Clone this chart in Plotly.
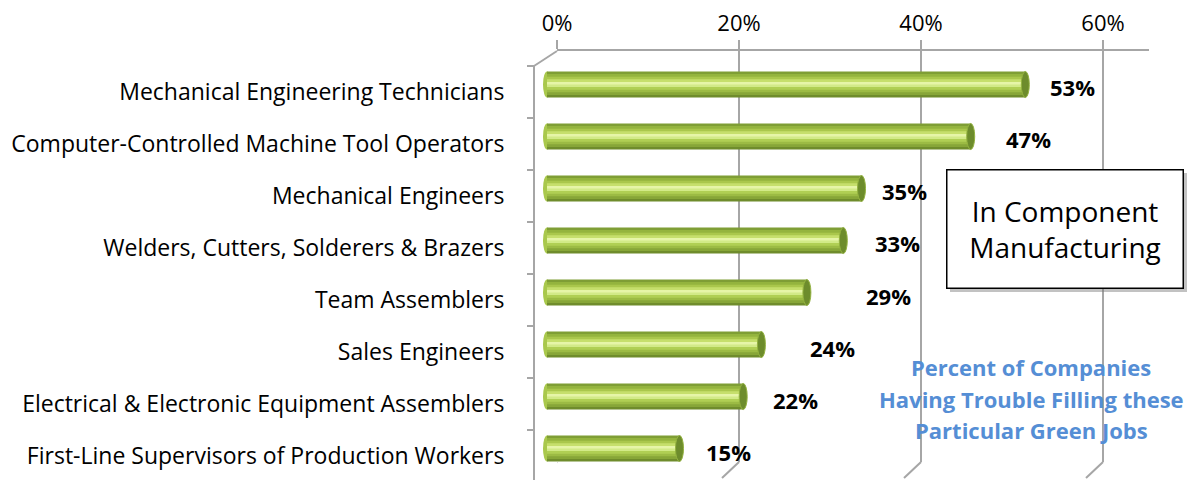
import plotly.graph_objects as go

categories = [
    "Mechanical Engineering Technicians",
    "Computer-Controlled Machine Tool Operators",
    "Mechanical Engineers",
    "Welders, Cutters, Solderers & Brazers",
    "Team Assemblers",
    "Sales Engineers",
    "Electrical & Electronic Equipment Assemblers",
    "First-Line Supervisors of Production Workers",
]
values = [53, 47, 35, 33, 29, 24, 22, 15]
tick_values = [0, 20, 40, 60]
tick_labels = ["0%", "20%", "40%", "60%"]
label_nudge_px = [-3, 7, -8, 4, 31, 21, 2, -2]

W, H = 1191, 480
FONT = "Open Sans"
GRID = "#a6a6a6"
PXU = 9.1          # pixels per percent
CAP = 4 / PXU      # cap radius in data units
n = len(categories)
pos = list(range(n))

def px(xp):
    return xp / W

def py(yp):
    return 1 - yp / H

strip_colors = ["#7f9e35", "#94b43e", "#aac74c", "#c6df6c", "#e6f5a8",
                "#d2ea88", "#b0cf54", "#9cbb44", "#87a638", "#6f8c2c"]
bar_h = 0.5
sw = bar_h / len(strip_colors)

fig = go.Figure()
fig.add_trace(go.Scatter(x=[], y=[], xaxis="x", yaxis="y", showlegend=False))
for k, c in enumerate(strip_colors):
    extra = sw * 0.6 if k < len(strip_colors) - 1 else 0
    fig.add_trace(go.Bar(
        y=pos, x=[v - CAP for v in values], base=CAP,
        orientation="h", width=sw + extra, offset=-bar_h / 2 + k * sw,
        marker=dict(color=c, line=dict(width=0)),
        xaxis="x2", yaxis="y2", showlegend=False, hoverinfo="skip",
    ))
fig.add_trace(go.Scatter(x=[], y=[], xaxis="x2", yaxis="y3", showlegend=False))
fig.add_trace(go.Scatter(x=[], y=[], xaxis="x2", yaxis="y4", showlegend=False))

shapes = []
for i, v in enumerate(values):
    shapes.append(dict(type="circle", xref="x2", yref="y2", layer="below",
                       x0=0, x1=2 * CAP, y0=i - bar_h / 2, y1=i + bar_h / 2,
                       fillcolor="#a9c84c", line=dict(width=0)))
    shapes.append(dict(type="circle", xref="x2", yref="y2", layer="above",
                       x0=v - CAP, x1=v + CAP, y0=i - bar_h / 2, y1=i + bar_h / 2,
                       fillcolor="#6d8c2c", line=dict(color="#93b23f", width=1)))

for v in tick_values:
    shapes.append(dict(type="line", xref="x", yref="paper",
                       x0=v, x1=v - 17 / PXU, y0=py(462), y1=py(478),
                       line=dict(color=GRID, width=2)))
shapes.append(dict(type="line", xref="paper", yref="paper",
                   x0=px(534), x1=px(557), y0=py(66), y1=py(51),
                   line=dict(color=GRID, width=2)))

annotations = []
for i, v in enumerate(values):
    annotations.append(dict(
        x=v + CAP, y=i, xref="x2", yref="y2", text=f"<b>{v}%</b>",
        showarrow=False, xanchor="left", yanchor="middle",
        xshift=22 + label_nudge_px[i], yshift=-3,
        font=dict(family=FONT, size=22, color="black"),
    ))

annotations.append(dict(
    x=px(1064.5), y=py(228.5), xref="paper", yref="paper", text=" ",
    xanchor="center", yanchor="middle",
    showarrow=False, width=235, height=117, xshift=4, yshift=-4,
    bgcolor="rgba(120,120,120,0.45)", borderwidth=0,
))
annotations.append(dict(
    x=px(1064.5), y=py(228.5), xref="paper", yref="paper",
    xanchor="center", yanchor="middle",
    text="In Component<br>Manufacturing", showarrow=False,
    width=233, height=115, align="center",
    bgcolor="white", bordercolor="black", borderwidth=1.5,
    font=dict(family=FONT, size=28, color="black"),
))
note_lines = ["Percent of Companies", "Having Trouble Filling these",
              "Particular Green Jobs"]
for j, t in enumerate(note_lines):
    annotations.append(dict(
        x=px(1031), y=py(367 + 31.5 * j), xref="paper", yref="paper",
        xanchor="center", yanchor="middle",
        text=f"<b>{t}</b>", showarrow=False,
        font=dict(family=FONT, size=22, color="#558ED5"),
    ))

cat_range = [-0.5 + (H - 66) / 52, -0.5]
fig.update_layout(
    width=W, height=H,
    margin=dict(l=0, r=0, t=0, b=0, pad=0, autoexpand=False),
    paper_bgcolor="white", plot_bgcolor="rgba(0,0,0,0)",
    barmode="overlay",
    xaxis=dict(domain=[px(557), px(557 + 65 * PXU)], range=[0, 65],
               anchor="y", side="top", automargin=False,
               tickvals=tick_values, ticktext=tick_labels,
               ticks="outside", ticklen=9, tickwidth=2, tickcolor=GRID,
               showline=True, linecolor=GRID, linewidth=2,
               showgrid=True, gridcolor=GRID, gridwidth=2, zeroline=False,
               tickfont=dict(family=FONT, size=22, color="black")),
    yaxis=dict(domain=[py(462), py(51)], range=[0, 1], anchor="x",
               visible=False, automargin=False),
    xaxis2=dict(domain=[px(543), px(543 + 65 * PXU)], range=[0, 65],
                anchor="y2", visible=False, automargin=False),
    yaxis2=dict(domain=[0, py(58.5)], range=[-0.5 + (H - 58.5) / 52, -0.5],
                anchor="x2", visible=False, automargin=False),
    yaxis3=dict(domain=[0, py(66)], range=cat_range,
                anchor="free", position=px(534), automargin=False,
                tickvals=pos, ticktext=categories,
                ticks="outside", ticklen=24, tickcolor="rgba(0,0,0,0)",
                showline=True, linecolor=GRID, linewidth=2,
                showgrid=False, zeroline=False,
                tickfont=dict(family=FONT, size=23, color="black")),
    yaxis4=dict(domain=[0, py(66)], range=cat_range,
                anchor="free", position=px(534), automargin=False,
                tickvals=[i - 0.5 for i in range(n + 1)],
                ticks="outside", ticklen=7, tickwidth=2, tickcolor=GRID,
                showticklabels=False, showline=False,
                showgrid=False, zeroline=False),
    shapes=shapes,
    annotations=annotations,
)

fig.write_html("out.html", config={"displayModeBar": False},
               post_script="document.body.style.margin='0';document.body.style.overflow='hidden';")
